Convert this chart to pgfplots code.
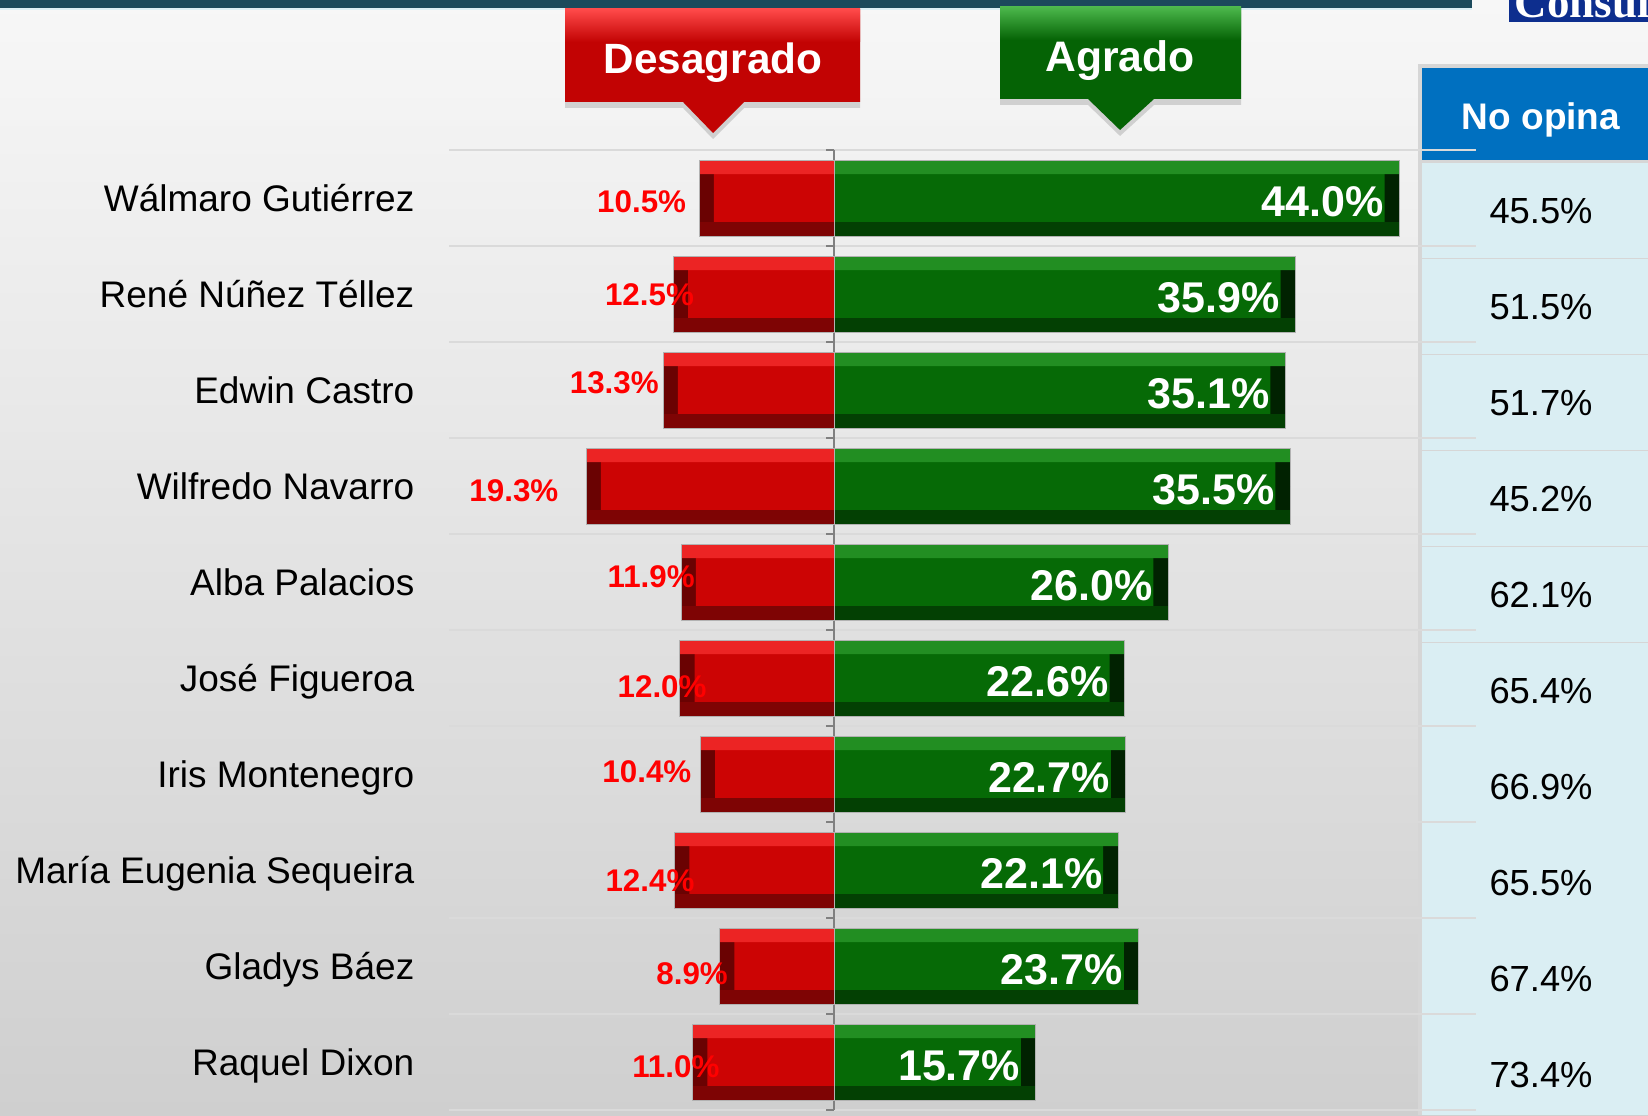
\documentclass[border=0pt]{standalone}
\usepackage{pgfplots}
\pgfplotsset{compat=1.18}
\usepackage{pgfplotstable}
\usepackage{fontspec}
\setmainfont{Liberation Sans}
\newfontfamily\logofont{Liberation Serif}
\usetikzlibrary{shadows}

\definecolor{bgtop}{HTML}{F7F7F7}
\definecolor{bgbot}{HTML}{CFCFCF}
\definecolor{band}{HTML}{1C4A5C}
\definecolor{bandline}{HTML}{DCEFF5}
\definecolor{logoblue}{HTML}{0D2E8E}
\definecolor{hdrRtop}{HTML}{FF4A4A}
\definecolor{hdrR}{HTML}{C20303}
\definecolor{hdrGtop}{HTML}{4CB84C}
\definecolor{hdrG}{HTML}{056305}
\definecolor{barR}{HTML}{CC0404}
\definecolor{barRtop}{HTML}{EC2424}
\definecolor{barRbot}{HTML}{7E0404}
\definecolor{barRout}{HTML}{6A0202}
\definecolor{barG}{HTML}{066A06}
\definecolor{barGtop}{HTML}{228E22}
\definecolor{barGbot}{HTML}{034003}
\definecolor{barGout}{HTML}{012201}
\definecolor{hdrblue}{HTML}{0070C0}
\definecolor{cellcyan}{HTML}{DAEEF3}
\definecolor{framegray}{HTML}{D6D6D6}
\definecolor{rowline}{HTML}{DADADA}
\definecolor{axisgray}{HTML}{808080}
\definecolor{lblred}{HTML}{FF0000}

\pgfplotstableread{
row desag agrado noop lx ly
0 10.5 44.0 45.5 -14.97 0.03
1 12.5 35.9 51.5 -14.36 1.00
2 13.3 35.1 51.7 -17.10 1.92
3 19.3 35.5 45.2 -24.91 3.04
4 11.9 26.0 62.1 -14.23 3.94
5 12.0 22.6 65.4 -13.38 5.09
6 10.4 22.7 66.9 -14.56 5.97
7 12.4 22.1 65.5 -14.32 7.11
8 8.9 23.7 67.4 -11.04 8.08
9 11.0 15.7 73.4 -12.31 9.05
}\datatable

\pgfplotsset{
  barbase/.style={xbar, bar width=22.8pt, bar shift=0pt, draw=none},
  topstrip/.style={xbar, bar width=4.2pt, bar shift=9.3pt, draw=none},
  botstrip/.style={xbar, bar width=4.2pt, bar shift=-9.3pt, draw=none},
  valnode/.style={only marks, mark=*, mark size=0pt, mark options={draw=none, fill=none},
    point meta=explicit,
    nodes near coords={\pgfmathprintnumber[assume math mode=true, fixed, fixed zerofill, precision=1]{\pgfplotspointmeta}\%}},
}

\begin{document}
\begin{tikzpicture}
% ---------- decoration in pixel coordinates ----------
\begin{scope}[shift={(0,334.5pt)}, x=0.3pt, y=-0.3pt]
  \shade[top color=bgtop, bottom color=bgbot] (0,0) rectangle (1648,1115);
  \fill[band] (0,0) rectangle (1472,8);
  \fill[bandline] (0,8) rectangle (1472,10);
  \fill[logoblue] (1509,0) rectangle (1648,22);
  \begin{scope}
    \clip (1509,0) rectangle (1648,22);
    \node[anchor=base west, inner sep=0pt, text=white, font=\logofont\bfseries\fontsize{13.5}{14}\selectfont] at (1514,18) {Consultores};
  \end{scope}
  % table
  \fill[framegray] (1418,64) rectangle (1648,1115);
  \fill[hdrblue] (1422,68) rectangle (1648,160);
  \foreach \i in {0,...,9} {
    \fill[cellcyan] (1422,{163+95.9*\i}) rectangle (1648,{min(258.5+95.9*\i,1115)});
  }
  \node[text=white, font=\bfseries\fontsize{11.1}{13}\selectfont, text height=8pt, text depth=0pt, inner sep=0pt] at (1541,116) {No opina};
  % row lines
  \foreach \i in {0,...,10} {
    \draw[rowline, line width=0.7pt] (449,{150+96*\i}) -- (1476,{150+96*\i});
  }
  % zero line
  \draw[axisgray, line width=0.5pt] (834,150) -- (834,1110);
  \foreach \i in {0,...,10} {
    \draw[axisgray, line width=0.5pt] (826,{150+96*\i}) -- (834,{150+96*\i});
  }
  % headers
  \fill[hdrR, drop shadow={opacity=0.3, shadow xshift=0pt, shadow yshift=-1.8pt}]
    (565,9) -- (860,9) -- (860,102) -- (744,102) -- (713,133) -- (683,102) -- (565,102) -- cycle;
  \shade[top color=hdrRtop, bottom color=hdrR] (565,9) rectangle (860,42);
  \node[text=white, font=\bfseries\fontsize{12.7}{14}\selectfont, text height=9.1pt, text depth=0pt, inner sep=0pt] at (713,58) {Desagrado};
  \fill[hdrG, drop shadow={opacity=0.3, shadow xshift=0pt, shadow yshift=-1.8pt}]
    (1000,7) -- (1241,7) -- (1241,99) -- (1154,99) -- (1120,130) -- (1088,99) -- (1000,99) -- cycle;
  \shade[top color=hdrGtop, bottom color=hdrG] (1000,7) rectangle (1241,40);
  \node[text=white, font=\bfseries\fontsize{12.8}{14}\selectfont, text height=9.2pt, text depth=0pt, inner sep=0pt] at (1120,56) {Agrado};
\end{scope}

% ---------- data ----------
\begin{axis}[
  at={(0,0)}, anchor=south west,
  scale only axis, width=494.4pt, height=334.5pt,
  xmin=-64.903, xmax=63.346,
  ymin=-2.0625, ymax=9.5521, y dir=reverse,
  clip=false,
  axis line style={draw=none},
  major tick length=0pt,
  xtick=\empty,
  ytick={0,...,9},
  yticklabels={Wálmaro Gutiérrez, René Núñez Téllez, Edwin Castro, Wilfredo Navarro, Alba Palacios, José Figueroa, Iris Montenegro, María Eugenia Sequeira, Gladys Báez, Raquel Dixon},
  yticklabel style={anchor=east, xshift=124.5pt, inner sep=0pt, font=\fontsize{11.1}{13}\selectfont, text height=8pt, text depth=0pt},
]
% Desagrado bars (bevelled look from layered bars)
\addplot[barbase, fill=barRout] table[x expr=-\thisrow{desag}, y=row] {\datatable};
\addplot[barbase, fill=barR] table[x expr=-\thisrow{desag}+1.15, y=row] {\datatable};
\addplot[topstrip, fill=barRtop] table[x expr=-\thisrow{desag}, y=row] {\datatable};
\addplot[botstrip, fill=barRbot] table[x expr=-\thisrow{desag}, y=row] {\datatable};
\addplot[barbase, fill=none, draw=black!30, line width=0.3pt] table[x expr=-\thisrow{desag}, y=row] {\datatable};
% Agrado bars
\addplot[barbase, fill=barGout] table[x=agrado, y=row] {\datatable};
\addplot[barbase, fill=barG] table[x expr=\thisrow{agrado}-1.15, y=row] {\datatable};
\addplot[topstrip, fill=barGtop] table[x=agrado, y=row] {\datatable};
\addplot[botstrip, fill=barGbot] table[x=agrado, y=row] {\datatable};
\addplot[barbase, fill=none, draw=black!30, line width=0.3pt] table[x=agrado, y=row] {\datatable};

% red labels
\addplot[valnode,
  every node near coord/.append style={anchor=center, inner sep=0pt, text=lblred,
    font=\bfseries\fontsize{9.4}{11}\selectfont, text height=6.7pt, text depth=0pt}]
  table[x=lx, y=ly, meta=desag] {\datatable};
% green labels
\addplot[valnode,
  every node near coord/.append style={anchor=east, xshift=-4.5pt, yshift=-0.9pt, inner sep=0pt, text=white,
    font=\bfseries\fontsize{12.9}{14}\selectfont, text height=9.2pt, text depth=0pt}]
  table[x=agrado, y=row, meta=agrado] {\datatable};
% no opina values
\addplot[valnode,
  every node near coord/.append style={anchor=center, inner sep=0pt, text=black,
    font=\fontsize{10.9}{12}\selectfont, text height=7.8pt, text depth=0pt}]
  table[x expr=55.02, y expr=\thisrow{row}+0.13, meta=noop] {\datatable};
\end{axis}
\pgfresetboundingbox
\path[use as bounding box] (0,0) rectangle (494.4pt,334.5pt);
\end{tikzpicture}
\end{document}
